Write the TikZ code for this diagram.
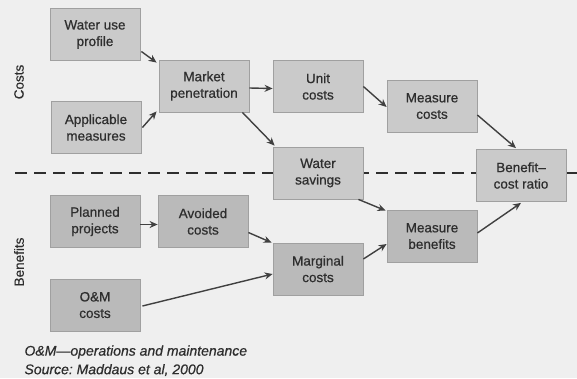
\documentclass[tikz,border=0pt]{standalone}
\usepackage{fontspec}
\setmainfont{Liberation Sans}
\usetikzlibrary{calc,arrows.meta}
\frenchspacing
\definecolor{bgc}{HTML}{EFEFEF}
\definecolor{costfill}{HTML}{CACACA}
\definecolor{benfill}{HTML}{BABABA}
\definecolor{boxedge}{HTML}{A0A0A0}
\definecolor{ink}{HTML}{2E2E2E}
\definecolor{arrowc}{HTML}{404040}
\tikzset{
  costbox/.style={draw=boxedge, line width=0.8pt, fill=costfill, minimum width=90pt, minimum height=52pt,
    inner sep=0pt, align=center, text=ink, font=\fontsize{13.5}{16.5}\selectfont\addfontfeature{FakeBold=0.6}},
  benbox/.style={costbox, fill=benfill},
  flow/.style={draw=arrowc, line width=1.4pt, -{Stealth[length=8pt,width=7pt]}},
  divider/.style={draw=ink, line width=1.8pt, dash pattern=on 12pt off 7pt},
  sidelabel/.style={rotate=90, text=ink, font=\fontsize{13.5}{15}\selectfont\addfontfeature{FakeBold=0.4}},
  captionline/.style={anchor=west, text=ink, font=\fontsize{14}{16}\selectfont\itshape\addfontfeature{FakeBold=0.6}}
}
\begin{document}
\begin{tikzpicture}[x=1pt,y=-1pt]
\fill[bgc] (0,0) rectangle (577,378);
\useasboundingbox (0,0) rectangle (577,378);
\coordinate (dl) at (15,173);
\coordinate (dr) at (577,173);
\draw[divider] (dl) -- (dr);

\node[costbox] (wup) at (95,34.5) {Water use\\profile};
\node[costbox] (am) at (96,127.5) {Applicable\\measures};
\node[costbox] (mp) at (204,86) {Market\\penetration};
\node[costbox] (uc) at (318,86.5) {Unit\\costs};
\node[costbox] (mc) at (432,106) {Measure\\costs};
\node[costbox] (ws) at (318,173) {Water\\savings};
\node[costbox] (bc) at (521,175.5) {Benefit--\\cost ratio};
\node[benbox] (pp) at (95,221.5) {Planned\\projects};
\node[benbox] (ac) at (203,221.5) {Avoided\\costs};
\node[benbox] (om) at (95,305) {O\&M\\costs};
\node[benbox] (mg) at (318,269) {Marginal\\costs};
\node[benbox] (mb) at (432,236) {Measure\\benefits};

\node[sidelabel] (costs) at (19,82) {Costs};
\node[sidelabel] (bens) at (19,262) {Benefits};

\node[captionline] (cap1) at (21,352) {O\&M---operations and maintenance};
\node[captionline] (cap2) at (21,370) {Source: Maddaus et al, 2000};

\draw[flow] ($(wup.east)+(1,17)$) -- ($(mp.north west)+(-2,3)$);
\draw[flow] ($(am.east)+(1,0)$) -- ($(mp.south west)+(-2,-1)$);
\draw[flow] ($(mp.east)+(0,2)$) -- ($(uc.west)+(0,2)$);
\draw[flow] ($(mp.south east)+(-7,0)$) -- ($(ws.north west)+(2,-1)$);
\draw[flow] (uc.east) -- ($(mc.west)+(0,1)$);
\draw[flow] ($(mc.east)+(0,9)$) -- ($(bc.north)+(-5,-1)$);
\draw[flow] ($(ws.south east)+(-5,0)$) -- ($(mb.north west)+(-1,1)$);
\draw[flow] ($(mg.east)+(0,-10)$) -- ($(mb.west)+(0,8)$);
\draw[flow] ($(mb.east)+(0,-3)$) -- ($(bc.south)+(0,1)$);
\draw[flow] ($(pp.east)+(0,3)$) -- ($(ac.west)+(0,3)$);
\draw[flow] ($(ac.east)+(0,11)$) -- ($(mg.north west)+(-1,0)$);
\draw[flow] ($(om.east)+(2,1)$) -- ($(mg.west)+(0,5)$);
\end{tikzpicture}
\end{document}
